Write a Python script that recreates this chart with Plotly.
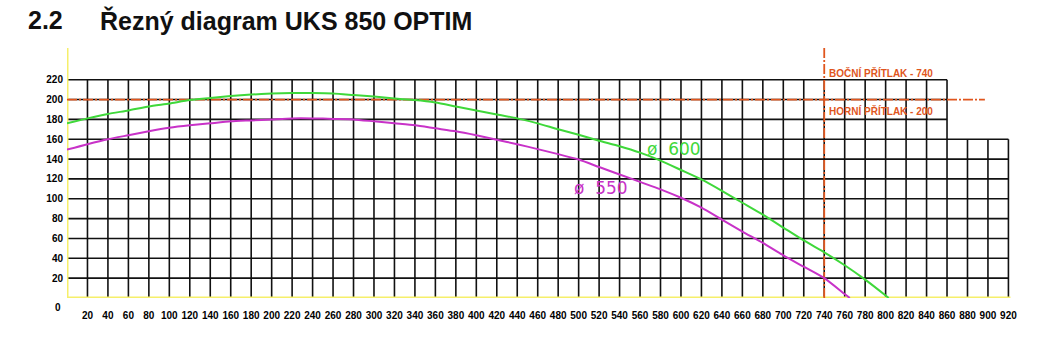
import plotly.graph_objects as go

# Cutting curves (saw blade diameter 600 and 550): cut width [mm] vs. height [mm]
d600_x = [0, 20, 40, 60, 80, 100, 120, 140, 160, 180, 200, 220, 240, 260, 280, 300,
          320, 340, 360, 380, 400, 420, 440, 460, 480, 500, 520, 540, 560, 580, 600,
          620, 640, 660, 680, 700, 720, 740, 760, 780, 800, 803]
d600_y = [176, 181, 185.5, 189, 193, 196, 199.5, 201.5, 203.5, 205, 206, 206.5, 206.5, 206, 204.5, 203,
          201, 199.5, 197, 193, 189, 185, 181, 176, 170, 164.5, 158.5, 153, 146.5, 138.5, 129,
          119.5, 108, 96, 84, 71, 58, 46, 33, 18.5, 2.5, 0]

d550_x = [0, 20, 40, 60, 80, 100, 120, 140, 160, 180, 200, 220, 240, 260, 280, 300,
          320, 340, 360, 380, 400, 420, 440, 460, 480, 500, 520, 540, 560, 580, 600,
          620, 640, 660, 680, 700, 720, 740, 760, 765]
d550_y = [149.5, 155, 160, 164, 168, 171.5, 174, 176, 178, 179, 180, 181, 181, 180.5, 180, 178,
          176, 174, 171, 168, 164, 159.5, 155, 150, 145, 139.5, 132, 124.5, 117, 109.5, 101,
          91, 79, 67, 55.5, 43, 31.5, 20, 4, 0]

# Pressure limits
side_limit = 740   # BOČNÍ PŘÍTLAK
top_limit = 200    # HORNÍ PŘÍTLAK

# Tick values / labels
x_ticks = list(range(20, 940, 20))
y_ticks = list(range(20, 240, 20))

GREEN = "#3fd83a"
MAGENTA = "#c832c8"
ORANGE = "#e0561e"
YELLOW = "#f6ef6a"

fig = go.Figure()

# stepped grid: full height up to 860, columns beyond 860 only up to 160
gx, gy = [], []
for yv in y_ticks:
    gx += [0, 860 if yv > 160 else 920, None]
    gy += [yv, yv, None]
for xv in x_ticks:
    gx += [xv, xv, None]
    gy += [0, 220 if xv <= 860 else 160, None]
fig.add_trace(go.Scatter(x=gx, y=gy, mode="lines",
                         line=dict(color="#111111", width=1.6), hoverinfo="skip"))

# yellow base axes
fig.add_trace(go.Scatter(x=[0, 922], y=[0, 0], mode="lines",
                         line=dict(color=YELLOW, width=3), hoverinfo="skip"))
fig.add_trace(go.Scatter(x=[0, 0], y=[-2, 252], mode="lines",
                         line=dict(color=YELLOW, width=3), hoverinfo="skip"))

# pressure limit lines
fig.add_trace(go.Scatter(x=[0, 897], y=[top_limit, top_limit], mode="lines",
                         line=dict(color=ORANGE, width=1.8, dash="10px,2px,2px,2px"),
                         hoverinfo="skip"))
fig.add_trace(go.Scatter(x=[side_limit, side_limit], y=[0, 252], mode="lines",
                         line=dict(color=ORANGE, width=1.8, dash="10px,2px,2px,2px"),
                         hoverinfo="skip"))

# cutting curves
fig.add_trace(go.Scatter(x=d600_x, y=d600_y, mode="lines",
                         line=dict(color=GREEN, width=2, shape="spline", smoothing=0.6),
                         name="ø 600"))
fig.add_trace(go.Scatter(x=d550_x, y=d550_y, mode="lines",
                         line=dict(color=MAGENTA, width=2, shape="spline", smoothing=0.6),
                         name="ø 550"))

tick_font = dict(family="Liberation Sans Narrow, Liberation Sans, Arial", size=10,
                 color="#000000", weight="bold")
label_font = dict(family="Liberation Sans Narrow, Liberation Sans, Arial", size=10,
                  color=ORANGE, weight="bold")
title_font = dict(family="Liberation Sans, Arial", size=25, color="#111111")

annotations = [
    dict(x=-0.0424, y=1.0775, xref="paper", yref="paper", text="<b>2.2</b>",
         showarrow=False, xanchor="left", yanchor="middle", font=title_font),
    dict(x=0.0321, y=1.0775, xref="paper", yref="paper", text="<b>Řezný diagram UKS 850 OPTIM</b>",
         showarrow=False, xanchor="left", yanchor="middle", font=title_font),
    dict(x=-0.0098, y=-0.0349, xref="paper", yref="paper", text="0", showarrow=False,
         xanchor="center", yanchor="middle", font=tick_font),
    dict(x=side_limit + 3, y=227, xref="x", yref="y", text="BOČNÍ PŘÍTLAK - %d" % side_limit,
         showarrow=False, xanchor="left", yanchor="middle", font=label_font),
    dict(x=side_limit + 3, y=188, xref="x", yref="y", text="HORNÍ PŘÍTLAK - %d" % top_limit,
         showarrow=False, xanchor="left", yanchor="middle", font=label_font),
    dict(x=593, y=150, xref="x", yref="y", text="ø  600", showarrow=False,
         xanchor="center", yanchor="middle",
         font=dict(family="DejaVu Sans, Liberation Sans", size=17, color=GREEN)),
    dict(x=522, y=111, xref="x", yref="y", text="ø  550", showarrow=False,
         xanchor="center", yanchor="middle",
         font=dict(family="DejaVu Sans, Liberation Sans", size=17, color=MAGENTA)),
]

fig.update_layout(
    width=1039, height=344,
    margin=dict(l=67, r=5, t=40, b=46),
    paper_bgcolor="white", plot_bgcolor="white",
    showlegend=False,
    annotations=annotations,
    xaxis=dict(range=[0, 945], tickmode="array", tickvals=x_ticks,
               ticktext=[str(v) for v in x_ticks], showgrid=False, zeroline=False,
               showline=False, ticks="", tickfont=tick_font, ticklabelstandoff=10,
               fixedrange=True),
    yaxis=dict(range=[0, 260], tickmode="array", tickvals=y_ticks,
               ticktext=[str(v) for v in y_ticks], showgrid=False, zeroline=False,
               showline=False, ticks="", tickfont=tick_font, ticklabelstandoff=3,
               fixedrange=True),
)

fig.write_html("out.html")
